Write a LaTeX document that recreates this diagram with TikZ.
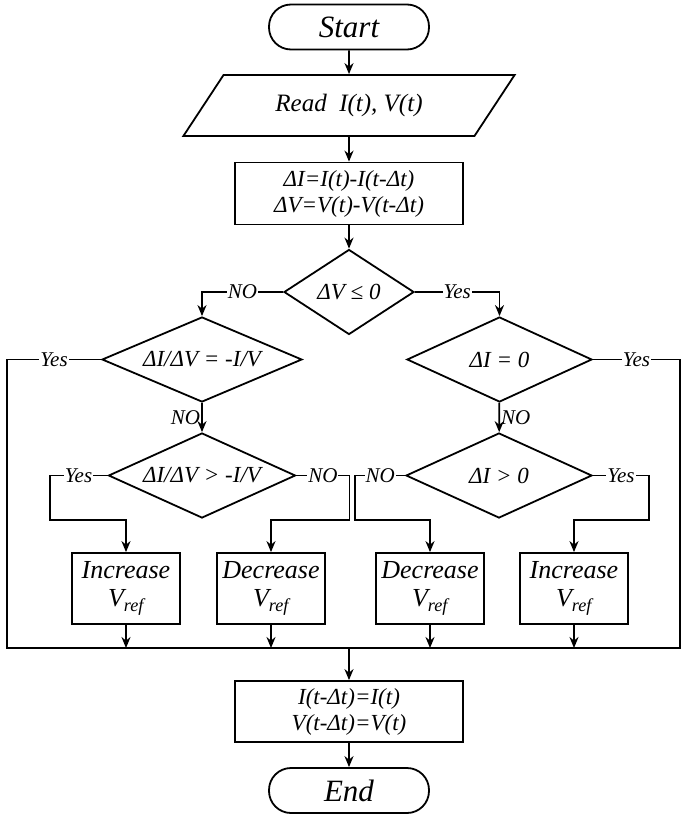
\documentclass[tikz,border=0pt]{standalone}
\usepackage{fontspec}
\setmainfont{Liberation Serif}
\usetikzlibrary{arrows.meta,shapes.geometric}

\begin{document}
\begin{tikzpicture}[
  x=10pt, y=-10pt,
  font=\itshape,
  >={Stealth[length=11pt,width=9pt]},
  line width=1.8pt,
  terminal/.style={draw, rounded corners=22pt, minimum width=160pt, minimum height=45pt, font=\itshape\fontsize{31}{34}\selectfont},
  io/.style={draw, trapezium, trapezium left angle=50, trapezium right angle=130, trapezium stretches=true, minimum width=332pt, minimum height=61pt, font=\itshape\fontsize{25}{28}\selectfont},
  process/.style={draw, align=center, minimum width=228pt, minimum height=62pt, font=\itshape\fontsize{23}{26}\selectfont},
  decision/.style={draw, diamond, aspect=2.2, inner sep=0pt, minimum height=85pt, font=\itshape\fontsize{23}{26}\selectfont},
  action/.style={draw, align=center, minimum width=108pt, minimum height=71pt, font=\itshape\fontsize{26}{28}\selectfont},
  lab/.style={fill=white, inner sep=1pt, font=\itshape\fontsize{21}{23}\selectfont}
]
\useasboundingbox (0,0) rectangle (68.2,81.7);

\node[terminal] (start) at (34.9,2.7) {Start};
\node[io] (read) at (34.9,10.55) {Read\ \ I(t), V(t)};
\node[process] (delta) at (34.9,19.35) {ΔI=I(t)-I(t-Δt)\\ΔV=V(t)-V(t-Δt)};
\node[decision, minimum width=130pt] (dv) at (34.9,29.2) {ΔV ≤ 0};
\node[decision, minimum width=200pt] (slopeeq) at (20.2,35.95) {ΔI/ΔV = -I/V};
\node[decision, minimum width=185pt] (dizero) at (49.95,35.95) {ΔI = 0};
\node[decision, minimum width=187pt] (slopegt) at (20.2,47.55) {ΔI/ΔV > -I/V};
\node[decision, minimum width=186pt] (digt) at (49.9,47.55) {ΔI > 0};
\node[action] (inc1) at (12.6,58.85) {Increase\\V\textsubscript{ref}};
\node[action] (dec1) at (27.1,58.85) {Decrease\\V\textsubscript{ref}};
\node[action] (dec2) at (43.0,58.85) {Decrease\\V\textsubscript{ref}};
\node[action] (inc2) at (57.4,58.85) {Increase\\V\textsubscript{ref}};
\node[process, minimum height=61pt] (update) at (34.9,71.15) {I(t-Δt)=I(t)\\V(t-Δt)=V(t)};
\node[terminal] (end) at (34.9,79.05) {End};

\coordinate (mergeL) at (0.7,64.8);
\coordinate (mergeR) at (68.0,64.8);

\draw[->] (start) -- (read);
\draw[->] (read) -- (delta);
\draw[->] (delta) -- (dv);
\draw[->] (dv.west) -- node[lab]{NO} (dv.west -| slopeeq.north) -- (slopeeq.north);
\draw[->] (dv.east) -- node[lab]{Yes} (dv.east -| dizero.north) -- (dizero.north);
\draw[->] (slopeeq) -- node[lab, left, fill=none]{NO} (slopegt);
\draw[->] (dizero) -- node[lab, right, fill=none]{NO} (digt);
\draw (slopeeq.west) -- node[lab]{Yes} (slopeeq.west -| mergeL) -- (mergeL) -- (mergeR) -- (dizero.east -| mergeR) -- node[lab]{Yes} (dizero.east);
\draw[->] (slopegt.west) -- node[lab]{Yes} ++(-5.8,0) -- ++(0,4.45) -| (inc1.north);
\draw[->] (slopegt.east) -- node[lab]{NO} ++(5.3,0) -- ++(0,4.45) -| (dec1.north);
\draw[->] (digt.west) -- node[lab]{NO} ++(-5.0,0) -- ++(0,4.45) -| (dec2.north);
\draw[->] (digt.east) -- node[lab]{Yes} ++(5.6,0) -- ++(0,4.45) -| (inc2.north);
\draw[->] (inc1.south) -- (inc1.south |- mergeL);
\draw[->] (dec1.south) -- (dec1.south |- mergeL);
\draw[->] (dec2.south) -- (dec2.south |- mergeL);
\draw[->] (inc2.south) -- (inc2.south |- mergeL);
\draw[->] (update.north |- mergeL) -- (update);
\draw[->] (update) -- (end);
\end{tikzpicture}
\end{document}
